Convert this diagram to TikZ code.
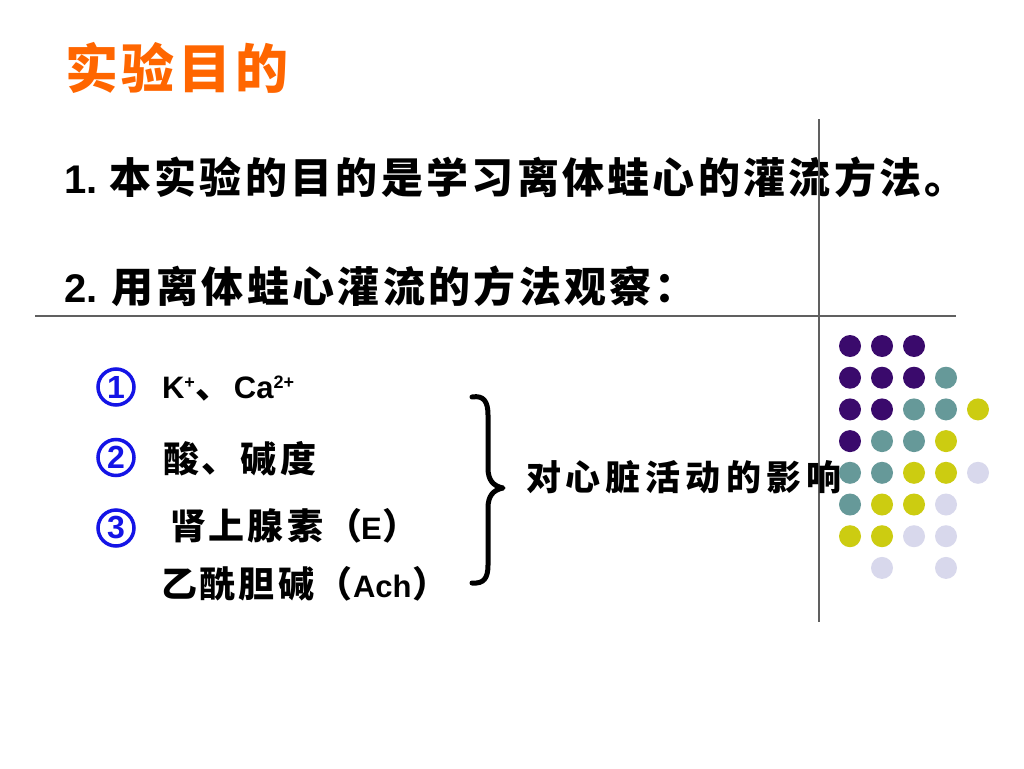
\documentclass[tikz,border=0pt]{standalone}
\usepackage{fontspec}
\setmainfont{Liberation Sans}
\newfontfamily\cjk{Noto Sans CJK SC}
\makeatletter
\newcommand\spc[2]{\@tfor\my@c:=#2\do{\my@c\kern#1}}
\makeatother
\definecolor{titleorange}{HTML}{FF6600}
\definecolor{numblue}{HTML}{1414E6}
\definecolor{rulegray}{HTML}{606060}
\definecolor{dP}{HTML}{3A0A6C}
\definecolor{dT}{HTML}{669999}
\definecolor{dY}{HTML}{CCCC11}
\definecolor{dL}{HTML}{D8D8EC}
\newcommand\cjkL{\fontsize{42}{44}\selectfont\cjk\bfseries}
\newcommand\latL{\fontsize{40}{42}\selectfont\bfseries}
\newcommand\cjkS{\fontsize{36}{38}\selectfont\cjk\bfseries}
\newcommand\latS{\fontsize{31}{33}\selectfont\bfseries}
\newcommand\supS[1]{\raisebox{10pt}{\fontsize{18}{18}\selectfont\bfseries #1}}
\begin{document}
\begin{tikzpicture}[x=1pt,y=-1pt,
  txt/.style={anchor=west,inner sep=0pt,outer sep=0pt},
  numc/.style={circle,draw=numblue,line width=3.5pt,minimum size=36pt,inner sep=0pt,
    text=numblue,font=\fontsize{32}{32}\selectfont\bfseries},
  rulel/.style={draw=rulegray,line width=1.2pt}]
\useasboundingbox[fill=white] (0,0) rectangle (1024,768);

% title
\node[txt,text=titleorange,font=\fontsize{53}{55}\selectfont\cjk\bfseries] (title) at (65,67.5) {\spc{4pt}{实验目的}};

% line 1 and 2
\node[txt] (l1) at (64,177) {{\latL 1.}\kern12pt{\cjkL\spc{3.3pt}{本实验的目的是学习离体蛙心的灌流方法。}}};
\node[txt] (l2) at (64,286) {{\latL 2.}\kern14pt{\cjkL\spc{3.3pt}{用离体蛙心灌流的方法观察：}}};

% rules
\draw[rulel] (35,316) -- (956,316);
\draw[rulel] (819,119) -- (819,622);

% numbered list
\node[numc] (n1) at (116,387) {1};
\node[numc] (n2) at (116,457.5) {2};
\node[numc] (n3) at (116,528) {3};

\node[txt] (i1) at (162,389) {{\latS K\supS{+}}\kern1pt{\cjkS 、}\kern2pt{\latS Ca\supS{2+}}};
\node[txt] (i2) at (163,459) {\cjkS\spc{3pt}{酸、碱度}};
\node[txt] (i3) at (170,526) {{\cjkS\spc{3pt}{肾上腺素}\kern1pt（}\kern-2pt{\latS E}\kern1pt{\cjkS ）}};
\node[txt] (i4) at (161,584) {{\cjkS\spc{3pt}{乙酰胆碱}（}{\latS Ach}\kern1pt{\cjkS ）}};

% brace
\draw[line width=5pt,line join=round,line cap=round] (472,397) .. controls (484,395) and (488,402) .. (488,415)
  -- (488,468) .. controls (488,480) and (493,486) .. (503,488)
  .. controls (493,490) and (488,496) .. (488,508)
  -- (488,565) .. controls (488,578) and (484,584) .. (472,583);
\node[txt] (eff) at (526,477) {\fontsize{35}{37}\selectfont\cjk\bfseries\spc{5pt}{对心脏活动的影响}};

% dots
\foreach \c/\i/\j in {dP/0/0,dP/1/0,dP/2/0,
  dP/0/1,dP/1/1,dP/2/1,dT/3/1,
  dP/0/2,dP/1/2,dT/2/2,dT/3/2,dY/4/2,
  dP/0/3,dT/1/3,dT/2/3,dY/3/3,
  dT/0/4,dT/1/4,dY/2/4,dY/3/4,dL/4/4,
  dT/0/5,dY/1/5,dY/2/5,dL/3/5,
  dY/0/6,dY/1/6,dL/2/6,dL/3/6,
  dL/1/7,dL/3/7}
  \fill[\c] ({850+32*\i},{346+31.7*\j}) circle[radius=11];
\end{tikzpicture}
\end{document}
